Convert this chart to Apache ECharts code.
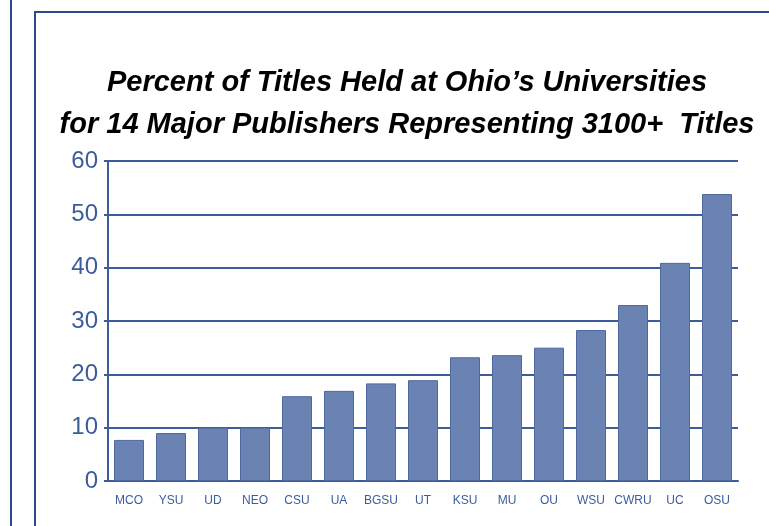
<!DOCTYPE html>
<html lang="en">
<head>
    <meta charset="UTF-8">
    <title>Percent of Titles Held</title>
    <script src="https://cdn.jsdelivr.net/npm/echarts@6/dist/echarts.min.js"></script>
</head>
<style>
    html, body { margin: 0; padding: 0; background: #fff; }
    #container { width: 769px; height: 526px; }
</style>
<body>
<div id="container"></div>
<script>
    var schools = ['MCO', 'YSU', 'UD', 'NEO', 'CSU', 'UA', 'BGSU', 'UT', 'KSU', 'MU', 'OU', 'WSU', 'CWRU', 'UC', 'OSU'];
    var percentHeld = [7.7, 9.0, 10.0, 10.0, 15.9, 16.9, 18.3, 18.9, 23.2, 23.6, 25.0, 28.3, 33.0, 40.9, 53.8];
    var yTicks = [0, 10, 20, 30, 40, 50, 60];

    var blue = '#3d5c9c';
    var chart = echarts.init(document.getElementById('container'));

    var option = {
        backgroundColor: '#fff',
        animation: false,
        title: {
            text: 'Percent of Titles Held at Ohio\u2019s Universities\nfor 14 Major Publishers Representing 3100+  Titles',
            left: 402,
            textAlign: 'center',
            top: 57,
            textStyle: {
                fontFamily: '"Liberation Sans", Arial, sans-serif',
                fontSize: 29,
                fontWeight: 'bold',
                fontStyle: 'italic',
                color: '#000',
                lineHeight: 42
            }
        },
        // outer frame lines
        graphic: [
            { type: 'line', shape: { x1: 11, y1: 0, x2: 11, y2: 526 }, style: { stroke: '#2a4a90', lineWidth: 2 } },
            { type: 'polyline', shape: { points: [[35, 526], [35, 12], [769, 12]] }, style: { stroke: '#2a4a90', lineWidth: 2, fill: null } }
        ],
        grid: {
            left: 108,
            right: 31,
            top: 161,
            bottom: 45
        },
        xAxis: {
            type: 'category',
            data: schools,
            axisLine: { lineStyle: { color: blue, width: 2 } },
            axisTick: { show: false },
            axisLabel: {
                color: blue,
                fontSize: 12,
                fontFamily: '"Liberation Sans", Arial, sans-serif',
                margin: 14,
                interval: 0
            }
        },
        yAxis: {
            type: 'value',
            min: yTicks[0],
            max: yTicks[yTicks.length - 1],
            interval: 10,
            axisLine: { show: true, lineStyle: { color: blue, width: 2 } },
            axisTick: { show: true, length: 4, lineStyle: { color: blue, width: 2 } },
            axisLabel: {
                color: blue,
                fontSize: 24,
                fontFamily: '"Liberation Sans", Arial, sans-serif',
                margin: 10
            },
            splitLine: { lineStyle: { color: blue, width: 2 } }
        },
        series: [
            {
                type: 'bar',
                data: percentHeld,
                barWidth: 30,
                itemStyle: {
                    color: '#6a83b2',
                    borderColor: '#4e69a2',
                    borderWidth: 1
                }
            }
        ]
    };

    chart.setOption(option);
</script>
</body>
</html>
